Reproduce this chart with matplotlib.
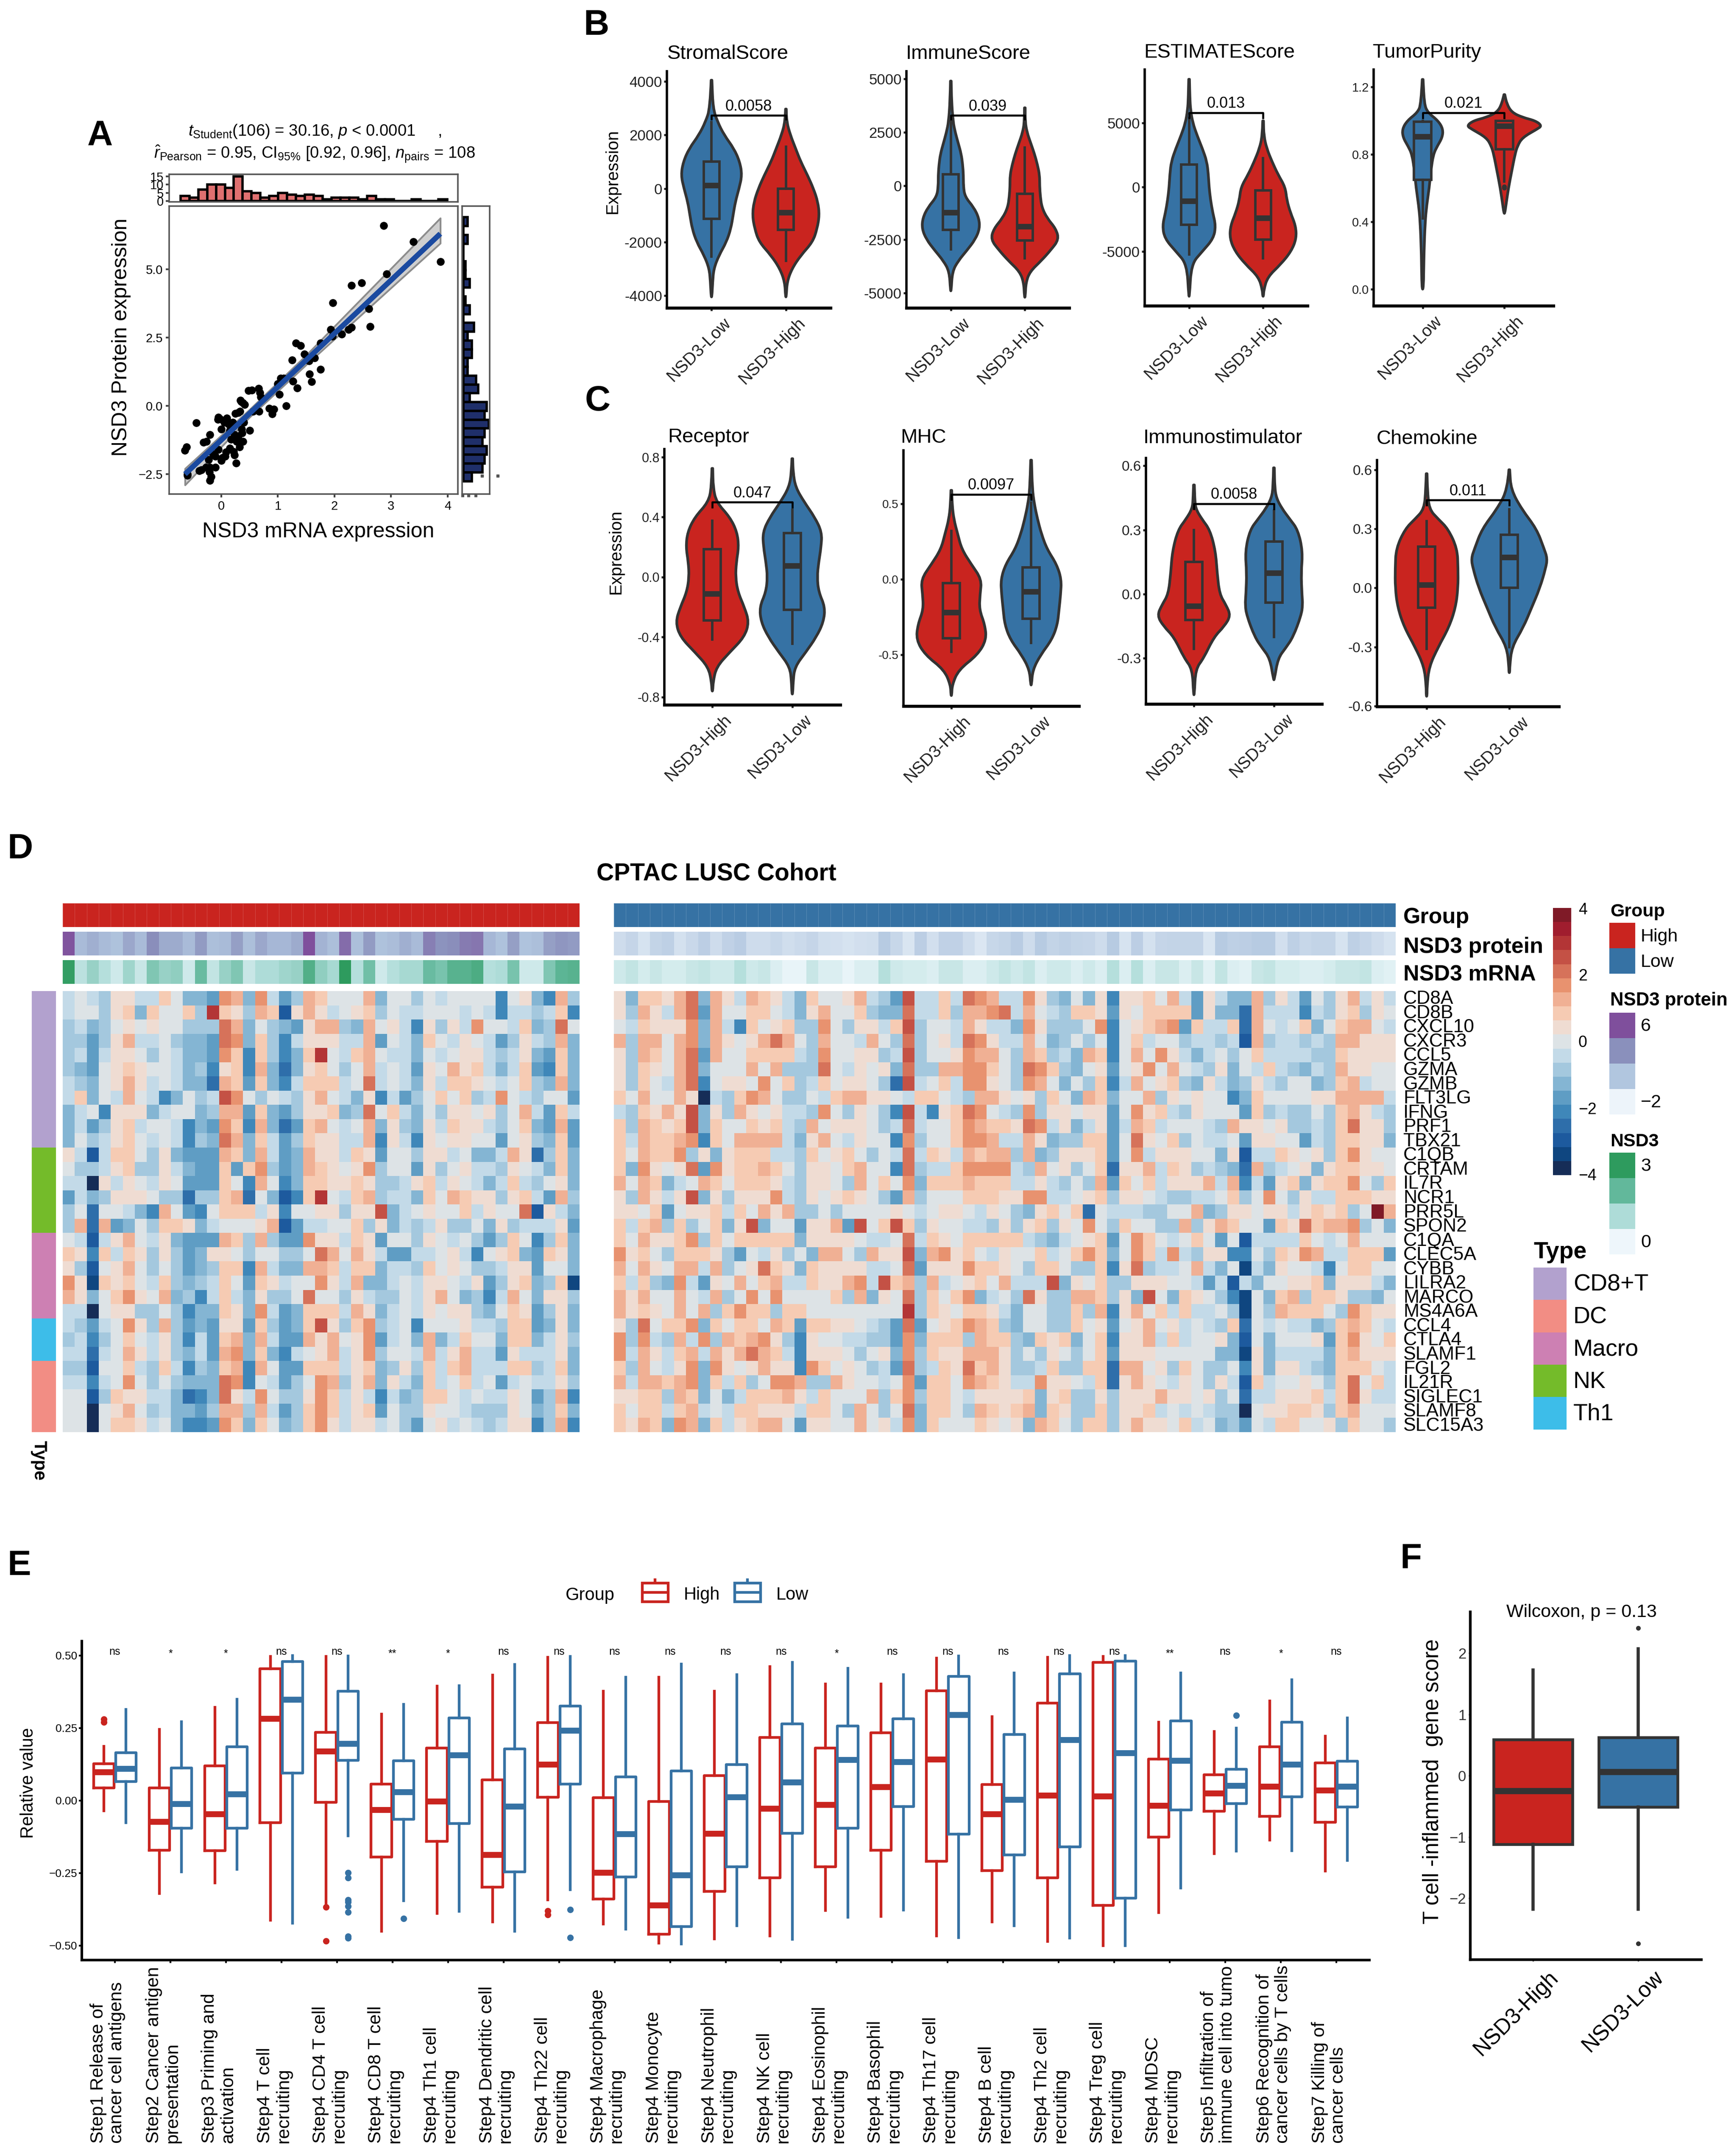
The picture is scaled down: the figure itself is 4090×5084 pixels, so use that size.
import numpy as np
import matplotlib
matplotlib.use('Agg')
import matplotlib.pyplot as plt
from matplotlib.colors import ListedColormap, LinearSegmentedColormap
from matplotlib.patches import PathPatch, Rectangle
from matplotlib.path import Path
from matplotlib.transforms import ScaledTranslation

W, H = 4091, 5084
RED = '#C9241F'
BLUE = '#3672A4'
EDGE = '#333333'

# panel A
mrna = [-.64,-.61,-.44,-.31,-.26,-.2,-.6,-.39,-.35,-.27,-.2,-.18,-.21,-.2,-.1,-.22,-.15,-.05,-.1,0,.02,.07,.08,
        -.05,-.02,-.06,.1,.05,0,.13,.2,.22,.15,.23,.3,.17,.27,.37,.5,.36,.4,.38,.32,.15,.22,.23,.26,.3,.25,.33,
        .35,.38,.41,.34,.48,.54,.66,.68,.7,.67,.56,.85,.9,.93,1.03,1.15,1.05,1.1,1.0,1.27,1.34,1.25,1.32,1.4,
        1.47,1.55,1.6,1.56,1.65,1.75,1.75,1.93,1.97,1.96,2.13,2.25,2.3,2.3,2.48,2.61,2.63,2.87,2.92,3.39,3.87,-.6]
protein = [-1.63,-1.5,-.62,-1.33,-1.31,-1.05,-2.55,-2.37,-2.35,-2.25,-2.25,-2.6,-2.42,-2.73,-2.25,-1.98,-1.75,-1.6,-1.85,-2.0,-1.9,-1.85,-1.7,
           -.42,-.48,-.5,-.45,-.6,-.85,-.67,-.6,-.75,-.9,-1.05,-1.1,-1.22,-1.3,-1.0,-.9,-.85,-.6,-1.3,-1.5,-1.55,-1.67,-1.8,-2.1,-.25,-.28,-.2,
           .15,.1,.05,.2,.55,.58,.64,.48,.32,-.2,-.2,-.1,-.3,-.13,.42,0,1,1,.8,.9,.65,1.67,2.3,2.2,
           1.9,1.65,.88,1.17,1.75,1.33,2.3,2.8,3.77,2.55,2.62,2.8,2.87,4.4,4.5,3.55,2.9,6.6,4.83,6.0,5.28,-2.5]
fit_x = [-.64, .5, 1.5, 3.87]
fit_y = [-2.5, -.28, 1.67, 6.3]
fit_lo = [-2.9, -.42, 1.5, 5.95]
fit_hi = [-2.3, -.14, 1.85, 6.87]
mrna_counts = [3,2,7,10,10,8,15,6,5,2,3,5,4,3,4,3,1,2,2,2,1,3,1,1,0,0,1,0,0,1]
protein_counts = [2,0,2,0,0,1,1,3,0,1,3,0,5,2,4,4,2,2,6,7,3,11,10,12,10,9,11,10,9,4]

# panel B violin outlines: y stations and half widths, boxes are q1, med, q3, low, high
stromal_low_y = [4050,3000,2500,2000,1500,1000,500,0,-500,-1000,-1500,-2000,-2500,-3000,-3500,-4050]
stromal_low_w = [.005,.02,.08,.17,.3,.38,.41,.37,.32,.29,.26,.2,.1,.03,.015,.005]
stromal_low_box = [-1135,115,1000,-2550,2480]
stromal_high_y = [2970,2500,2000,1500,1000,500,0,-500,-1000,-1500,-2000,-2500,-3000,-3500,-4050]
stromal_high_w = [.005,.01,.06,.13,.2,.29,.37,.43,.45,.42,.36,.2,.08,.015,.005]
stromal_high_box = [-1550,-900,0,-2700,1570]

immune_low_y = [4900,4000,3000,2500,2000,1500,1000,500,0,-500,-1000,-1500,-2000,-2500,-3000,-3500,-4000,-4900]
immune_low_w = [.005,.01,.03,.06,.1,.14,.16,.17,.17,.19,.31,.38,.39,.33,.22,.1,.02,.005]
immune_low_box = [-2050,-1230,550,-2960,3050]
immune_high_y = [3650,3000,2500,2000,1500,1000,500,0,-500,-1000,-1500,-2000,-2500,-3000,-3500,-4000,-4500,-5200]
immune_high_w = [.005,.005,.03,.08,.13,.17,.2,.2,.21,.23,.3,.42,.46,.35,.22,.07,.015,.005]
immune_high_box = [-2540,-1900,-370,-3380,1800]

estimate_low_y = [8400,7000,6000,5000,4000,3000,2000,1000,0,-1000,-2000,-3000,-4000,-5000,-6000,-8500]
estimate_low_w = [.005,.01,.02,.05,.11,.18,.24,.26,.27,.29,.32,.36,.33,.18,.03,.005]
estimate_low_box = [-2940,-1080,1760,-5240,5400]
estimate_high_y = [5160,4000,3000,2000,1000,0,-1000,-2000,-3000,-4000,-5000,-6000,-7000,-8000,-8500]
estimate_high_w = [.005,.01,.05,.12,.2,.3,.32,.37,.44,.45,.38,.24,.06,.01,.005]
estimate_high_box = [-4080,-2400,-240,-5540,2260]

purity_low_y = [1.245,1.1,1.05,1.0,.95,.9,.85,.8,.7,.6,.5,.4,.2,0]
purity_low_w = [.005,.02,.06,.19,.25,.24,.18,.13,.1,.08,.05,.03,.015,.01]
purity_low_box = [.65,.905,.995,.42,1.0]
purity_high_y = [1.155,1.1,1.05,1.02,1.0,.97,.95,.9,.85,.8,.7,.6,.5,.45]
purity_high_w = [.005,.03,.09,.22,.38,.46,.4,.22,.16,.13,.09,.05,.02,.005]
purity_high_box = [.83,.97,1.0,.64,1.0]
purity_high_fliers = [.6,.61]

# panel C
receptor_high_y = [.725,.6,.5,.4,.3,.2,.1,0,-.1,-.2,-.3,-.4,-.5,-.6,-.7,-.76]
receptor_high_w = [.005,.01,.05,.22,.31,.33,.3,.29,.32,.4,.46,.4,.22,.05,.01,.005]
receptor_high_box = [-.29,-.11,.185,-.415,.377]
receptor_low_y = [.79,.7,.6,.5,.4,.3,.2,.1,0,-.1,-.2,-.3,-.4,-.5,-.6,-.7,-.78]
receptor_low_w = [.005,.01,.04,.15,.28,.37,.36,.33,.31,.33,.41,.39,.3,.17,.03,.01,.005]
receptor_low_box = [-.218,.075,.293,-.446,.45]

mhc_high_y = [.59,.5,.4,.3,.2,.1,0,-.1,-.2,-.3,-.4,-.5,-.6,-.7,-.77]
mhc_high_w = [.005,.01,.03,.08,.13,.25,.38,.36,.35,.42,.44,.33,.09,.01,.005]
mhc_high_box = [-.39,-.22,-.025,-.48,.32]
mhc_low_y = [.79,.6,.5,.4,.3,.2,.1,0,-.1,-.2,-.3,-.4,-.5,-.6,-.7]
mhc_low_w = [.005,.015,.04,.08,.13,.2,.32,.38,.37,.35,.33,.26,.12,.02,.005]
mhc_low_box = [-.26,-.08,.08,-.42,.51]

stim_high_y = [.51,.45,.4,.35,.3,.2,.1,0,-.05,-.1,-.15,-.2,-.3,-.35,-.47]
stim_high_w = [.005,.01,.02,.1,.2,.27,.29,.32,.4,.46,.38,.25,.12,.02,.005]
stim_high_box = [-.12,-.055,.15,-.255,.3]
stim_low_y = [.59,.5,.45,.4,.35,.3,.2,.1,0,-.05,-.1,-.2,-.25,-.3,-.4]
stim_low_w = [.005,.01,.03,.1,.2,.3,.36,.34,.35,.36,.34,.24,.15,.05,.005]
stim_low_box = [-.04,.1,.245,-.2,.39]

chemo_high_y = [.58,.5,.4,.35,.3,.2,.1,0,-.1,-.2,-.3,-.4,-.5,-.55]
chemo_high_w = [.005,.01,.03,.14,.26,.37,.38,.38,.35,.27,.14,.03,.005,.005]
chemo_high_box = [-.1,.017,.21,-.31,.34]
chemo_low_y = [.6,.5,.4,.3,.2,.15,.1,0,-.1,-.2,-.3,-.4,-.43]
chemo_low_w = [.005,.02,.15,.33,.42,.46,.44,.37,.27,.17,.03,.005,.005]
chemo_low_box = [0,.155,.27,-.3,.4]

# panel D
genes = ['CD8A','CD8B','CXCL10','CXCR3','CCL5','GZMA','GZMB','FLT3LG','IFNG','PRF1','TBX21','C1QB','CRTAM','IL7R','NCR1',
         'PRR5L','SPON2','C1QA','CLEC5A','CYBB','LILRA2','MARCO','MS4A6A','CCL4','CTLA4','SLAMF1','FGL2','IL21R','SIGLEC1',
         'SLAMF8','SLC15A3']
level_chars = 'abcdefghijklmnopqrs'
heat_colors = ['#162D57','#0F4680','#1D5A9E','#2E6EAA','#3F87B9','#5F9DC4','#84B5D3','#A4C8DE','#C3DAE8','#DDE3E6',
               '#EFDCD2','#F6CBB3','#F0B094','#E8926F','#D6725A','#C45145','#B33536','#A01D2E','#7F1A27']
heat_high_rows = [
    'ijihkkiilj ggfnmgnifh mljjjmgjjh jijjjjejkg emh',
    'ijjhklgljj lhqlkhmlck mkijklhjii jjjijieiih ile',
    'highjkjkjj hhhomgjhgf kmmhgmjkie khkinjjilg hoj',
    'hhfhkmiijh ggfonglhei kkkiimfjig ljikjifhki hmg',
    'hifikkjhji ggfnlelheg lqjilmjiig jijkkihikg flg',
    'hgfjklkjji gheklemgdg kljhjmijif kjmkligilf elg',
    'ihgjkmkiji ggdmlflgei lllijoijig killkjijlh gmg',
    'ilgjimjieg jhipnjhjih kmjigkeifh jljlhinjih jjf',
    'gijekkkgij jghmmflgfh kklghojlig jhkkjkhjmi fli',
    'gifhklijji egfnlemgdf lmjijmgkhg kilkkihjlg fmf',
    'gjhikljiji ehgomglifh lkkiimekie kjkkjjfjkh glf',
    'kicilljhkg fffmlgmifg mkkilkfjjh kkijggimkd hlg',
    'jhhiklhhki gfflflnhfg mlkjknhjjf khjkiihkji glg',
    'iiakikjikj fffljemjeg llkklkhhik likjigilih jkg',
    'fighkkkjhh dhhlmdjgce lqjilmhiig ljmlkkhkli fmh',
    'hjdjjigemj fejlllikej jkkhkkpgij kjjlikjjoc kig',
    'hmdmfgjhll kgijjjkmcf iijjlhkgih ikhhjgkhii ikf',
    'jicikmjikg fffmlhmhff nkkilkfjjh kjijhfhlje hlg',
    'lkelilkhkh fgkkjhjjhh jomjmkiffi ijkiejklgf lkg',
    'khcjkmjhjh fghllemigg mmlillgiih ljkjhhikkf jjg',
    'nkblkljilh ghiljflkij jnkimggiji kkjikfhklg hlb',
    'mkgjlnkjmg heiligkhhj ojjhkihhji kmjgheimjg kkh',
    'iiajkkhhjh egglkgnifg lllimkgiji kjkkhgjlkf hkg',
    'ihfijnkhmh fgfkkflhfg lpkhlnhije jjjkiihllf gkg',
    'hiehjljikh eiflmgmiff mkmjknfijg mgiljjgllg ikh',
    'iidijmkikh gifmnglgei jkmiknhjji mikmiifkii ikg',
    'hhcjjlihli ehglmemjff llliklghkh lilmiiillh ilg',
    'iieijnjhjh gggonejifh jnmhkmgkig lijlijfiji ikh',
    'jjchlkkiig degokinjhh knlikieigh lljijiikjf hme',
    'jjajkmjhig gfhmmhmifh lnliklfjhh kjjihhhkjg hlg',
    'jjajllkijg eefnlgljgh lnkikkijhf jkijihikke hme',
]
heat_low_rows = [
    'kgllk mogmk imlki gljjk mihfp iilio nmiin khgjg kekkl jmifk iggmh kifjh kmiki',
    'khmki mofmj jllji gkmjj lhggo iilhm mnoim jihll kfkjl lllfk ggdmi iieih klhkj',
    'jilkk kngmi eljkl hhnjh kkilp hjjim kiign khhhj nejkl mnfli ildmj ijlgj lmmji',
    'mhmmj mngmk jkmom jhmjj imjho hjkio nkiim jghjh jejli jjhii hicmh iihih mmkkk',
    'khmlj mofmj jllll ihnjj kkhip hjjkn mmjhm lhigm lejmj nkigi jhjli iiihh lkkkk',
    'khlkj mogjj jmjmh hhoji kjkgo hhmmn nljho nlhgj kfjkn jmjih kgjil ihgih mkkjj',
    'khlji moejk kjnjl hiljk kjhdp ijlin nkjhn mjgjh leimj klhgk ighki hjjgh lmijj',
    'ljmjj mkaih lnmjh hjilm mkkji lljih mmkjk hljgm lgjjm hkjkj jeglj jjjkk mmmmi',
    'ihlkm kpgkh mkjki ihnjh kjhep ieklo njihn hkkjk kfjnk lihkj jjflh ihhjh lmkih',
    'lhmlk lpglj jlkli hmjkk kjhio ijjln mllko nikgi kfiml ijjji hmkkj khhih lokkh',
    'limll mnelj mmmmi gkmji kjjen hjjln nmiim kghhl lfjok jlhji ijfkk jjfih llkkg',
    'ljmll nhkgk lllii hljkl jhjio ilkim lmmhm ghkkk lfjni kkkjj gkcii lkjkh lnkjj',
    'lgnkj kofnk llmlj hkkjl mjjeo hiiln nnnih mjkhj ldkkm ilkhi hgdmh ijkgk llkkj',
    'mjmlg ijmlj lllki hkkjh mjljn glllm lllii kihjh mfljl ikkkm imeif klgkl lnjhl',
    'khmki kpgkh kkkni hkjkl kjhfm hjjjl llkkn niijk lhkkj ihhii jlhjn jhkii lllkk',
    'kkjlf jkkli ljmkm hhjhj jjjkj ijkkj ikjhg kljld jiiih hjjmg hkkjk kiklk lhjsm',
    'lilmh lhjlg kpgjj fkkmf pjlpl hkjji ihkhk lhkjn jhljj hhmhk mljjf lkolm mnhjg',
    'ljmkk lnhlj lllll gkkkk jiijo ilkjl lllli hgijk lfjnl jijlj fjcii iilji jmjjj',
    'nkljh lllkh fjikh jgmmj hmkkp gmnkl jikjj lijln lgjnl inihk keejh lknmi illlf',
    'mjmkj mmimh jkolk glkkk kiijo fkkkn llkjh lljhh lekoh iijmi gjbig kjjie jlljj',
    'lilhg nifkj mjlmi ilkkm niplm hmijk ljmii ipgkj lhhkk kjjif icigj jkklg kkkig',
    'mkmjj mjimh jnjnj jjjlh mgkjo hljln gijho khhmm lhkgp jglkj hebjg lmhll khhgj',
    'mklkj mjmhl nllhl ljjjj jjjjq hlkjl lkigj jhhlh mekmj lilii jhbjh mlllj hnlkk',
    'khojl lnglj lljml fllkk jihfo fjkln mlhgj jhhlj kfjkm jkiji hldji jiigh lmlji',
    'nhnih minhm lmnkh ekjji ihhfn glllh mllhg lklgj lekkm ilijj kgcjg jjjkf lnkjl',
    'nimki lmimk momli ekkkj hjkgn hlkkm mmkhj hkjhj lfkkk jjjjj ggbkg iiiig lmkkk',
    'lhmji kngnk jkmkk enljk jhifo hilko lmkhh ilhhl ldmmj khljh hjekg kkihg lllji',
    'mimml mngli lhjnn mhhmk jjijn flljn mlkii nkkji ldkmk jikjh kicli jjkjh lojli',
    'kkllh mlgjg illlm kiljj jmhln hllji kkkkl gklhh khkkk mkkjk hjdii kkkli lokii',
    'ljlli lmiji llkkk illjh mjhjo glljh mlklm glkhh lhkkl ijiji hhajk kllkh lmjjj',
    'lkmlg nmgli klmmj fkkjj mjkin gljjj lkjkg mljhl lhkmk kjlij ghfji lljjk hljjh',
]
protein_high = [5.8,1.2,1.8,1.2,.9,2.2,1.2,3.4,2,2,1.2,2.8,1,1.2,2.6,1,2.2,1.4,1.4,2,6,1.6,1,4.8,1,2.8,.9,1.1,1.8,1.2,4,3.2,3.4,4.2,4.4,1.4,.9,2.6,.8,1,2.6,3,2.8]
protein_low = [-.6,-.2,-1,-.1,.1,-.9,-.4,.2,-.6,0,.3,-.6,-.6,-.3,-.7,-.5,-.2,-.7,-.8,-1,-.8,-.7,.4,-.3,-1.1,.2,-.8,0,0,-.6,-1.2,-.3,-.1,.3,-.6,.4,-.1,.1,-.1,-.2,-.6,.4,-1,.2,-.9,-.2,-.1,-.1,-.1,-1.1,.4,.1,.2,.4,.4,-.8,.1,-.3,-.1,-.1,-1,.1,-.2,-.6,-1]
mrna_high = [2.9,.8,1.3,.9,.5,1.2,.6,1.6,1.3,1.4,.5,1.9,.7,1.3,1.6,.6,1,1,1.2,1.3,2.3,1.4,1.1,3,.9,1.8,.5,.9,1.1,1.1,1.9,1.7,2.2,2.2,2.4,.9,1,1.7,.5,.5,1.6,2.1,2.2]
mrna_low = [.5,.7,.4,.6,.4,.4,.6,.7,.5,.5,.9,.5,.6,.3,.1,.1,.6,.3,.3,.1,.3,.3,.9,.5,.4,.4,.3,.6,.6,.3,.3,.5,.7,.5,.7,.3,.5,.5,.3,.5,.3,.9,.3,.9,.3,.6,.6,.3,.6,.2,.7,.3,.2,.6,.7,.4,.4,.3,.3,.4,.6,.6,.7,.3,.2]
type_names = ['CD8+T','DC','Macro','NK','Th1']
type_colors = ['#B2A1CE','#F28D84','#CD80B3','#74BB2A','#3DBDE9']
type_rows = [0]*11 + [3]*6 + [2]*6 + [4]*3 + [1]*5

# panel E
step_labels = ['Step1 Release of\ncancer cell antigens','Step2 Cancer antigen\npresentation','Step3 Priming and\nactivation',
               'Step4 T cell\nrecruiting','Step4 CD4 T cell\nrecruiting','Step4 CD8 T cell\nrecruiting','Step4 Th1 cell\nrecruiting',
               'Step4 Dendritic cell\nrecruiting','Step4 Th22 cell\nrecruiting','Step4 Macrophage\nrecruiting','Step4 Monocyte\nrecruiting',
               'Step4 Neutrophil\nrecruiting','Step4 NK cell\nrecruiting','Step4 Eosinophil\nrecruiting','Step4 Basophil\nrecruiting',
               'Step4 Th17 cell\nrecruiting','Step4 B cell\nrecruiting','Step4 Th2 cell\nrecruiting','Step4 Treg cell\nrecruiting',
               'Step4 MDSC\nrecruiting','Step5 Infiltration of\nimmune cell into tumo','Step6 Recognition of\ncancer cells by T cells',
               'Step7 Killing of\ncancer cells']
step_sig = ['ns','*','*','ns','ns','**','*','ns','ns','ns','ns','ns','ns','*','ns','ns','ns','ns','ns','**','ns','*','ns']
high_q1 = [.044,-.172,-.173,-.077,-.006,-.195,-.141,-.299,.011,-.34,-.461,-.313,-.266,-.228,-.172,-.209,-.241,-.266,-.361,-.126,-.037,-.055,-.075]
high_med = [.097,-.073,-.047,.281,.169,-.032,-.004,-.187,.123,-.249,-.361,-.115,-.028,-.015,.046,.141,-.047,.017,.014,-.018,.024,.047,.035]
high_q3 = [.127,.043,.119,.454,.235,.057,.181,.071,.268,.01,-.004,.086,.217,.18,.234,.378,.055,.336,.476,.142,.089,.185,.13]
high_lo = [-.036,-.32,-.284,-.412,-.357,-.45,-.389,-.419,-.343,-.426,-.492,-.477,-.467,-.379,-.4,-.466,-.419,-.485,-.5,-.386,-.183,-.137,-.243]
high_hi = [.187,.245,.321,.497,.497,.297,.394,.432,.494,.376,.425,.376,.461,.402,.401,.49,.289,.494,.497,.27,.238,.343,.221]
low_q1 = [.065,-.095,-.095,.095,.138,-.065,-.079,-.246,.057,-.264,-.434,-.228,-.113,-.095,-.021,-.116,-.188,-.16,-.337,-.033,-.011,.012,-.022]
low_med = [.109,-.012,.021,.347,.195,.028,.156,-.021,.241,-.116,-.257,.011,.062,.14,.133,.295,.003,.209,.163,.137,.05,.124,.047]
low_q3 = [.165,.112,.185,.479,.376,.137,.285,.178,.326,.082,.102,.124,.264,.256,.282,.427,.228,.437,.48,.274,.108,.27,.136]
low_lo = [-.077,-.246,-.237,-.423,-.122,-.346,-.382,-.45,-.308,-.444,-.495,-.432,-.479,-.402,-.378,-.472,-.432,-.474,-.5,-.302,-.174,-.173,-.207]
low_hi = [.314,.272,.349,.5,.498,.331,.396,.469,.497,.425,.47,.433,.476,.455,.433,.498,.44,.499,.499,.44,.249,.416,.284]
high_fliers = {0: [.27,.28], 4: [-.368,-.484], 8: [-.38,-.394]}
low_fliers = {4: [-.249,-.267,-.343,-.35,-.364,-.385,-.468,-.474], 5: [-.407], 8: [-.376,-.472], 20: [.293]}

# panel F
tcell_high = [-1.12,-.25,.59,-2.18,1.72]
tcell_low = [-.51,.06,.62,-2.18,2.07]
tcell_low_fliers = [2.41,-2.74]

plt.rcParams['font.family'] = ['Liberation Sans', 'DejaVu Sans']
plt.rcParams['mathtext.fontset'] = 'custom'
plt.rcParams['mathtext.rm'] = 'Liberation Sans'
plt.rcParams['mathtext.it'] = 'Liberation Sans:italic'
plt.rcParams['mathtext.bf'] = 'Liberation Sans:bold'


def add_ax(fig, x0, y0, x1, y1):
    return fig.add_axes([x0 / W, 1 - y1 / H, (x1 - x0) / W, (y1 - y0) / H])


def violin_patch(pos, ys, ws, fill):
    ys = np.array(ys)
    ws = np.array(ws)
    pts = list(zip(pos - ws, ys)) + list(zip(pos + ws[::-1], ys[::-1]))
    verts = [pts[0]]
    codes = [Path.MOVETO]
    for a, b in zip(pts[1:-1], pts[2:]):
        mid = ((a[0] + b[0]) / 2, (a[1] + b[1]) / 2)
        verts += [a, mid]
        codes += [Path.CURVE3, Path.CURVE3]
    verts.append(pts[-1])
    codes.append(Path.LINETO)
    verts.append(pts[0])
    codes.append(Path.CLOSEPOLY)
    return PathPatch(Path(verts, codes), facecolor=fill, edgecolor=EDGE, lw=4.6, joinstyle='round', zorder=2)


def box_stats(box, fliers=()):
    return dict(q1=box[0], med=box[1], q3=box[2], whislo=box[3], whishi=box[4], fliers=list(fliers))


def shift_labels(fig, ax, dx, dy):
    # has to run after tick_params, which resets the label transforms
    offset = ScaledTranslation(dx / 100, dy / 100, fig.dpi_scale_trans)
    for lab in ax.get_xticklabels():
        lab.set_transform(lab.get_transform() + offset)


def violin_panel(fig, rect, title, title_xy, ylim, yticks, yticklabels, tick_size, names, ys, ws, boxes, fills, bracket, tip, label, fliers=((), ())):
    ax = add_ax(fig, *rect)
    for i in range(2):
        ax.add_patch(violin_patch(i + 1, ys[i], ws[i], fills[i]))
        ax.bxp([box_stats(boxes[i], fliers[i])], positions=[i + 1], widths=.21, showcaps=False, patch_artist=True,
               boxprops=dict(facecolor=fills[i], edgecolor=EDGE, lw=4.2), whiskerprops=dict(color=EDGE, lw=4.2),
               medianprops=dict(color=EDGE, lw=9.5, solid_capstyle='butt'),
               flierprops=dict(marker='o', mfc=EDGE, mec=EDGE, ms=7), manage_ticks=False, zorder=3)
    ax.plot([1, 1, 2, 2], [bracket - tip, bracket, bracket, bracket - tip], color='black', lw=3.4, zorder=4)
    ax.text(1.5, bracket + tip * .3, label, ha='center', va='bottom', fontsize=26)
    ax.set_xlim(.4, 2.6)
    ax.set_ylim(*ylim)
    ax.set_xticks([1, 2])
    ax.set_xticklabels(names, rotation=45, ha='right', va='top', rotation_mode='anchor', fontsize=29)
    ax.set_yticks(yticks)
    ax.set_yticklabels(yticklabels, fontsize=tick_size)
    ax.tick_params(length=5, width=3.5, pad=3, colors='#222222')
    shift_labels(fig, ax, 26, -5)
    for s in ['top', 'right']:
        ax.spines[s].set_visible(False)
    ax.spines['left'].set_linewidth(4)
    ax.spines['bottom'].set_linewidth(5.2)
    fig.text(title_xy[0] / W, 1 - (title_xy[1] + 3) / H, title, ha='center', va='center', fontsize=34)
    return ax


def panel_a(fig, ov):
    ax = add_ax(fig, 399, 486, 1080, 1165)
    ax.fill_between(fit_x, fit_lo, fit_hi, facecolor='#CFCFCF', edgecolor='#8C8C8C', lw=3, zorder=1)
    ax.scatter(mrna, protein, s=180, color='black', linewidths=0, zorder=2)
    ax.plot(fit_x, fit_y, color='#1B4AA0', lw=9, solid_capstyle='butt', zorder=3)
    ax.set_xlim(-.92, 4.18)
    ax.set_ylim(-3.23, 7.31)
    ax.set_xticks([0, 1, 2, 3, 4])
    ax.set_yticks([-2.5, 0, 2.5, 5])
    ax.set_yticklabels(['\u22122.5', '0.0', '2.5', '5.0'])
    ax.tick_params(labelsize=21, length=6, width=3, color='#444444', pad=5)
    top = add_ax(fig, 399, 411, 1080, 476)
    edges = np.linspace(-.72, 3.99, 31)
    top.bar(edges[:-1], mrna_counts, width=np.diff(edges), align='edge', facecolor='#E07070', edgecolor='black', lw=4)
    top.set_xlim(-.92, 4.18)
    top.set_ylim(-.5, 16.3)
    top.set_xticks([])
    top.set_yticks([0, 5, 10, 15])
    top.tick_params(labelsize=21, length=6, width=3, color='#444444', pad=3)
    right = add_ax(fig, 1090, 486, 1155, 1165)
    ybins = np.linspace(6.9, -2.76, 31)
    right.barh(ybins[:-1], protein_counts, height=np.diff(ybins), align='edge', facecolor='#1F2F6A', edgecolor='black', lw=4)
    right.set_ylim(-3.23, 7.31)
    right.set_xlim(-.7, 12.4)
    right.set_yticks([])
    right.set_xticks([-.4, 2.4, 5.7])
    right.set_xticklabels([])
    right.tick_params(length=5, width=5, color='#555555')
    for a in [ax, top, right]:
        for s in a.spines.values():
            s.set_color('#555555')
            s.set_linewidth(2.6)
    ov.plot([1137, 1174], [1122, 1122], 's', color='#555555', ms=5)
    ov.text(743, 310, r'$\mathit{t}_{\mathrm{Student}}$(106) = 30.16, $\mathit{p}$ < 0.0001     ,', ha='center', va='center', fontsize=27.5)
    ov.text(742, 363, r'$\hat{\mathit{r}}_{\mathrm{Pearson}}$ = 0.95, CI$_{95\%}$ [0.92, 0.96], $\mathit{n}_{\mathrm{pairs}}$ = 108', ha='center', va='center', fontsize=27.5)
    ov.text(751, 1254, 'NSD3 mRNA expression', ha='center', va='center', fontsize=36)
    ov.text(286, 795, 'NSD3 Protein expression', ha='center', va='center', rotation=90, fontsize=36)


def panel_bc(fig, ov):
    low_high = ['NSD3-Low', 'NSD3-High']
    high_low = ['NSD3-High', 'NSD3-Low']
    lh = [BLUE, RED]
    hl = [RED, BLUE]
    violin_panel(fig, (1573, 168, 1959, 726), 'StromalScore', (1717, 124), (-4462, 4385), [-4000, -2000, 0, 2000, 4000],
                 ['-4000', '-2000', '0', '2000', '4000'], 25, low_high, [stromal_low_y, stromal_high_y], [stromal_low_w, stromal_high_w],
                 [stromal_low_box, stromal_high_box], lh, 2740, 140, '0.0058')
    violin_panel(fig, (2138, 168, 2522, 726), 'ImmuneScore', (2284, 124), (-5697, 5360), [-5000, -2500, 0, 2500, 5000],
                 ['-5000', '-2500', '0', '2500', '5000'], 25, low_high, [immune_low_y, immune_high_y], [immune_low_w, immune_high_w],
                 [immune_low_box, immune_high_box], lh, 3305, 180, '0.039')
    violin_panel(fig, (2700, 164, 3084, 721), 'ESTIMATEScore', (2876, 121), (-9240, 9160), [-5000, 0, 5000],
                 ['-5000', '0', '5000'], 25, low_high, [estimate_low_y, estimate_high_y], [estimate_low_w, estimate_high_w],
                 [estimate_low_box, estimate_high_box], lh, 5800, 400, '0.013')
    violin_panel(fig, (3240, 164, 3664, 721), 'TumorPurity', (3366, 121), (-.099, 1.304), [0, .4, .8, 1.2],
                 ['0.0', '0.4', '0.8', '1.2'], 21, low_high, [purity_low_y, purity_high_y], [purity_low_w, purity_high_w],
                 [purity_low_box, purity_high_box], lh, 1.047, .03, '0.021', fliers=((), purity_high_fliers))
    violin_panel(fig, (1567, 1059, 1982, 1662), 'Receptor', (1671, 1028), (-.852, .854), [-.8, -.4, 0, .4, .8],
                 ['-0.8', '-0.4', '0.0', '0.4', '0.8'], 22, high_low, [receptor_high_y, receptor_low_y], [receptor_high_w, receptor_low_w],
                 [receptor_high_box, receptor_low_box], hl, .5, .034, '0.047')
    violin_panel(fig, (2131, 1062, 2545, 1665), 'MHC', (2178, 1029), (-.84, .855), [-.5, 0, .5],
                 ['-0.5', '0.0', '0.5'], 20, high_low, [mhc_high_y, mhc_low_y], [mhc_high_w, mhc_low_w],
                 [mhc_high_box, mhc_low_box], hl, .564, .034, '0.0097')
    violin_panel(fig, (2703, 1080, 3118, 1660), 'Immunostimulator', (2884, 1030), (-.513, .636), [-.3, 0, .3, .6],
                 ['-0.3', '0.0', '0.3', '0.6'], 24, high_low, [stim_high_y, stim_low_y], [stim_high_w, stim_low_w],
                 [stim_high_box, stim_low_box], hl, .423, .024, '0.0058')
    violin_panel(fig, (3248, 1085, 3677, 1666), 'Chemokine', (3366, 1032), (-.602, .649), [-.6, -.3, 0, .3, .6],
                 ['-0.6', '-0.3', '0.0', '0.3', '0.6'], 24, high_low, [chemo_high_y, chemo_low_y], [chemo_high_w, chemo_low_w],
                 [chemo_high_box, chemo_low_box], hl, .446, .026, '0.011')
    ov.text(1445, 404, 'Expression', rotation=90, ha='center', va='center', fontsize=29)
    ov.text(1453, 1301, 'Expression', rotation=90, ha='center', va='center', fontsize=29)


def heat_block(fig, x0, x1, rows, group_color, prot, mrn, heat_cmap, prot_cmap, mrna_cmap):
    n = len(prot)
    levels = np.array([[level_chars.index(c) for c in r.replace(' ', '').ljust(n, 'j')[:n]] for r in rows])
    values = -4 + levels * 8 / 18
    ax = add_ax(fig, x0, 2337, x1, 3377)
    ax.pcolormesh(values[::-1], cmap=heat_cmap, vmin=-4 - 4 / 18, vmax=4 + 4 / 18)
    ax.axis('off')
    g = add_ax(fig, x0, 2130, x1, 2186)
    g.pcolormesh(np.zeros((1, n)), cmap=ListedColormap([group_color]), edgecolors='#FFFFFF30', linewidth=.6)
    g.axis('off')
    p = add_ax(fig, x0, 2197, x1, 2253)
    p.pcolormesh(np.array([prot]), cmap=prot_cmap, vmin=-2, vmax=6)
    p.axis('off')
    m = add_ax(fig, x0, 2264, x1, 2320)
    m.pcolormesh(np.array([mrn]), cmap=mrna_cmap, vmin=0, vmax=3)
    m.axis('off')


def panel_d(fig, ov):
    heat_cmap = ListedColormap(heat_colors)
    prot_colors = ['#EDF4FA', '#B1C6DF', '#8A90BC', '#7F4F9C']
    mrna_colors = ['#EEF6FB', '#AEDCD8', '#62B89B', '#2E9B5E']
    prot_cmap = LinearSegmentedColormap.from_list('prot', prot_colors)
    mrna_cmap = LinearSegmentedColormap.from_list('mrna', mrna_colors)
    heat_block(fig, 148, 1367, heat_high_rows, RED, protein_high, mrna_high, heat_cmap, prot_cmap, mrna_cmap)
    heat_block(fig, 1448, 3292, heat_low_rows, BLUE, protein_low, mrna_low, heat_cmap, prot_cmap, mrna_cmap)
    ty = add_ax(fig, 75, 2337, 132, 3377)
    ty.pcolormesh(np.array(type_rows[::-1]).reshape(-1, 1), cmap=ListedColormap(type_colors), vmin=-.5, vmax=4.5)
    ty.axis('off')
    ov.text(92, 3444, 'Type', rotation=270, ha='center', va='center', fontsize=30, fontweight='bold')
    ov.text(1690, 2060, 'CPTAC LUSC Cohort', ha='center', va='center', fontsize=41, fontweight='bold')
    row_h = (3377 - 2337) / len(genes)
    for i, name in enumerate(genes):
        ov.text(3310, 2337 + row_h * (i + .56), name, ha='left', va='center', fontsize=32)
    for y, name in zip([2164, 2233, 2299], ['Group', 'NSD3 protein', 'NSD3 mRNA']):
        ov.text(3310, y, name, ha='left', va='center', fontsize=37.5, fontweight='bold')
    # colour bar
    cb = add_ax(fig, 3663, 2141, 3706, 2771)
    cb.pcolormesh(np.arange(19).reshape(-1, 1), cmap=heat_cmap)
    cb.axis('off')
    for y, t in zip([2146, 2302, 2459, 2617, 2773], ['4', '2', '0', '\u22122', '\u22124']):
        ov.text(3723, y, t, ha='left', va='center', fontsize=27)
    # annotation legends
    ov.text(3798, 2150, 'Group', ha='left', va='center', fontsize=31, fontweight='bold')
    ov.add_patch(Rectangle((3796, 2176), 61, 60, color=RED, lw=0))
    ov.add_patch(Rectangle((3796, 2236), 61, 60, color=BLUE, lw=0))
    ov.text(3870, 2209, 'High', ha='left', va='center', fontsize=31)
    ov.text(3870, 2269, 'Low', ha='left', va='center', fontsize=31)
    ov.text(3798, 2360, 'NSD3 protein', ha='left', va='center', fontsize=31.5, fontweight='bold')
    for i, c in enumerate(prot_colors[::-1]):
        ov.add_patch(Rectangle((3796, 2388 + 60 * i), 61, 60, color=c, lw=0))
    ov.text(3870, 2420, '6', ha='left', va='center', fontsize=31)
    ov.text(3870, 2600, '\u22122', ha='left', va='center', fontsize=31)
    ov.text(3798, 2692, 'NSD3', ha='left', va='center', fontsize=31, fontweight='bold')
    for i, c in enumerate(mrna_colors[::-1]):
        ov.add_patch(Rectangle((3796, 2718 + 60 * i), 61, 60, color=c, lw=0))
    ov.text(3870, 2750, '3', ha='left', va='center', fontsize=31)
    ov.text(3870, 2930, '0', ha='left', va='center', fontsize=31)
    ov.text(3617, 2953, 'Type', ha='left', va='center', fontsize=40, fontweight='bold')
    for i, (name, c) in enumerate(zip(type_names, type_colors)):
        ov.add_patch(Rectangle((3617, 2989 + 76.3 * i), 78, 76.3, color=c, lw=0))
        ov.text(3711, 3030 + 76.3 * i, name, ha='left', va='center', fontsize=40)


def panel_e(fig, ov):
    ax = add_ax(fig, 193, 3870, 3230, 4622)
    pos = np.arange(1, len(step_labels) + 1)
    for color, shift, q1, med, q3, lo, hi, fl in [
            (RED, -.2, high_q1, high_med, high_q3, high_lo, high_hi, high_fliers),
            (BLUE, .2, low_q1, low_med, low_q3, low_lo, low_hi, low_fliers)]:
        stats = [box_stats((q1[i], med[i], q3[i], lo[i], hi[i]), fl.get(i, [])) for i in range(len(pos))]
        ax.bxp(stats, positions=pos + shift, widths=.37, showcaps=False, manage_ticks=False,
               boxprops=dict(color=color, lw=4.6), whiskerprops=dict(color=color, lw=4.6),
               medianprops=dict(color=color, lw=10, solid_capstyle='butt'),
               flierprops=dict(marker='o', mfc=color, mec=color, ms=10))
    for p, s in zip(pos, step_sig):
        ax.text(p, .512 if s == 'ns' else .505, s, ha='center', va='center', fontsize=18)
    ax.set_xlim(.404, 23.596)
    ax.set_ylim(-.55, .549)
    ax.set_yticks([-.5, -.25, 0, .25, .5])
    ax.set_yticklabels(['\u22120.50', '\u22120.25', '0.00', '0.25', '0.50'], fontsize=19)
    ax.set_xticks(pos)
    ax.set_xticklabels(step_labels, rotation=90, va='bottom', ha='center', ma='left', fontsize=31, linespacing=1.12)
    ax.tick_params(axis='y', length=5, width=3, pad=3)
    ax.tick_params(axis='x', length=5, width=3, pad=306)
    shift_labels(fig, ax, -17, 0)
    for s in ['top', 'right']:
        ax.spines[s].set_visible(False)
    ax.spines['left'].set_linewidth(4.4)
    ax.spines['bottom'].set_linewidth(4.4)
    ov.text(67, 4204, 'Relative value', rotation=90, ha='center', va='center', fontsize=30)
    ov.text(1392, 3762, 'Group', ha='center', va='center', fontsize=30)
    for x0, color, name in [(1515, RED, 'High'), (1733, BLUE, 'Low')]:
        ov.add_patch(Rectangle((x0, 3733), 61, 44, fill=False, edgecolor=color, lw=4.6))
        ov.plot([x0, x0 + 61], [3755, 3755], color=color, lw=4.6, solid_capstyle='butt')
        ov.plot([x0 + 30, x0 + 30], [3722, 3733], color=color, lw=4.6, solid_capstyle='butt')
        ov.text(x0 + 98, 3761, name, ha='left', va='center', fontsize=30)


def panel_f(fig, ov):
    ax = add_ax(fig, 3468, 3801, 4013, 4621)
    for i, (box, fill, fl) in enumerate([(tcell_high, RED, []), (tcell_low, BLUE, tcell_low_fliers)]):
        ax.bxp([box_stats(box, fl)], positions=[i + 1], widths=.75, showcaps=False, patch_artist=True, manage_ticks=False,
               boxprops=dict(facecolor=fill, edgecolor=EDGE, lw=4.8), whiskerprops=dict(color=EDGE, lw=5.4),
               medianprops=dict(color=EDGE, lw=10.5, solid_capstyle='butt'),
               flierprops=dict(marker='o', mfc=EDGE, mec=EDGE, ms=7))
    ax.set_xlim(.403, 2.6)
    ax.set_ylim(-3.0, 2.67)
    ax.set_xticks([1, 2])
    ax.set_xticklabels(['NSD3-High', 'NSD3-Low'], rotation=45, ha='right', va='top', rotation_mode='anchor', fontsize=37)
    ax.set_yticks([-2, -1, 0, 1, 2])
    ax.set_yticklabels(['\u22122', '\u22121', '0', '1', '2'], fontsize=25, color='#333333')
    ax.tick_params(length=3, width=2.5, pad=4, color='#555555')
    shift_labels(fig, ax, 35, -8)
    for s in ['top', 'right']:
        ax.spines[s].set_visible(False)
    ax.spines['left'].set_linewidth(4.6)
    ax.spines['bottom'].set_linewidth(4.6)
    ov.text(3730, 3802, 'Wilcoxon, p = 0.13', ha='center', va='center', fontsize=31)
    ov.text(3380, 4201, 'T cell -inflammed  gene score', rotation=90, ha='center', va='center', fontsize=37)


def main():
    fig = plt.figure(figsize=(W / 100, H / 100), dpi=100)
    ov = add_ax(fig, 0, 0, W, H)
    ov.set_xlim(0, W)
    ov.set_ylim(H, 0)
    ov.axis('off')
    ov.set_zorder(10)
    ov.patch.set_alpha(0)

    panel_a(fig, ov)
    panel_bc(fig, ov)
    panel_d(fig, ov)
    panel_e(fig, ov)
    panel_f(fig, ov)

    for letter, x, y in [('A', 236, 320), ('B', 1407, 60), ('C', 1410, 946), ('D', 48, 2002), ('E', 45, 3692), ('F', 3328, 3676)]:
        ov.text(x, y, letter, ha='center', va='center', fontsize=60, fontweight='bold')

    fig.savefig('out.png', dpi=100)


if __name__ == "__main__":
    main()
